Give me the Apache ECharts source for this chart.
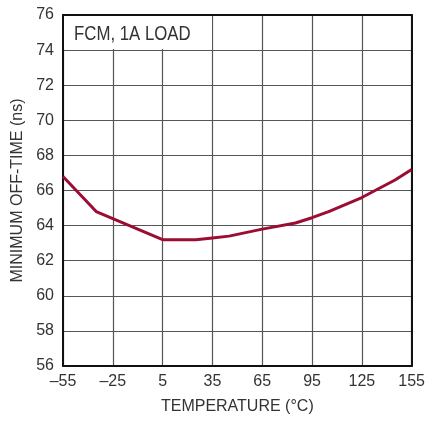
<!DOCTYPE html>
<html>
<head>
<meta charset="utf-8">
<script src="https://cdn.jsdelivr.net/npm/echarts@6/dist/echarts.min.js"></script>
<style>
  html, body { margin: 0; padding: 0; background: #fff; }
  #chart { width: 428px; height: 421px; }
</style>
</head>
<body>
<div id="chart"></div>
<script>
var temps = [-55, -35, 5, 25, 35, 45, 65, 85, 95, 105, 125, 145, 155];
var offTime = [66.8, 64.8, 63.2, 63.2, 63.3, 63.4, 63.8, 64.15, 64.45, 64.8, 65.6, 66.6, 67.2];
var xTicks = [-55, -25, 5, 35, 65, 95, 125, 155];
var yTicks = [56, 58, 60, 62, 64, 66, 68, 70, 72, 74, 76];

var font = 'Liberation Sans';
var chart = echarts.init(document.getElementById('chart'));

var points = temps.map(function (t, i) { return [t, offTime[i]]; });

// plain axis used for the top / right edges of the frame
function frameAxis(pos, ticks) {
  return {
    type: 'value',
    position: pos,
    min: ticks[0],
    max: ticks[ticks.length - 1],
    axisLine: { show: true, onZero: false, lineStyle: { color: '#111', width: 2 } },
    axisTick: { show: false },
    axisLabel: { show: false },
    splitLine: { show: false }
  };
}

var option = {
  animation: false,
  grid: { left: 63, right: 13, top: 15, bottom: 55 },
  graphic: [
    // white box behind the label hides the grid lines
    {
      type: 'rect', left: 64, top: 16, z: 100,
      shape: { width: 148, height: 33 },
      style: { fill: '#fff' }
    },
    {
      type: 'text', left: 74, top: 24, z: 101, scaleX: 0.84, originX: 0, originY: 0,
      style: { text: 'FCM, 1A LOAD', fontFamily: font, fontSize: 20, fill: '#333' }
    }
  ],
  xAxis: [{
    type: 'value',
    min: xTicks[0],
    max: xTicks[xTicks.length - 1],
    interval: 30,
    name: 'TEMPERATURE (°C)',
    nameLocation: 'middle',
    nameGap: 33,
    nameTextStyle: { fontFamily: font, fontSize: 16, color: '#333' },
    axisLine: { show: true, onZero: false, lineStyle: { color: '#111', width: 2 } },
    axisTick: { show: false },
    axisLabel: {
      fontFamily: font, fontSize: 16, color: '#333', margin: 8,
      formatter: function (v) { return String(v).replace('-', '\u2013'); }
    },
    splitLine: { show: true, lineStyle: { color: '#555', width: 1.2 } }
  }, frameAxis('top', xTicks)],
  yAxis: [{
    type: 'value',
    min: yTicks[0],
    max: yTicks[yTicks.length - 1],
    interval: 2,
    name: 'MINIMUM OFF-TIME (ns)',
    nameLocation: 'middle',
    nameGap: 36,
    nameTextStyle: { fontFamily: font, fontSize: 16, color: '#333' },
    axisLine: { show: true, onZero: false, lineStyle: { color: '#111', width: 2 } },
    axisTick: { show: false },
    axisLabel: { fontFamily: font, fontSize: 16, color: '#333', margin: 9 },
    splitLine: { show: true, lineStyle: { color: '#555', width: 1.2 } }
  }, frameAxis('right', yTicks)],
  series: [
    {
      type: 'line',
      data: points,
      smooth: false,
      showSymbol: false,
      lineStyle: { color: '#9b0d32', width: 3 },
      z: 5
    }
  ]
};

chart.setOption(option);
</script>
</body>
</html>
